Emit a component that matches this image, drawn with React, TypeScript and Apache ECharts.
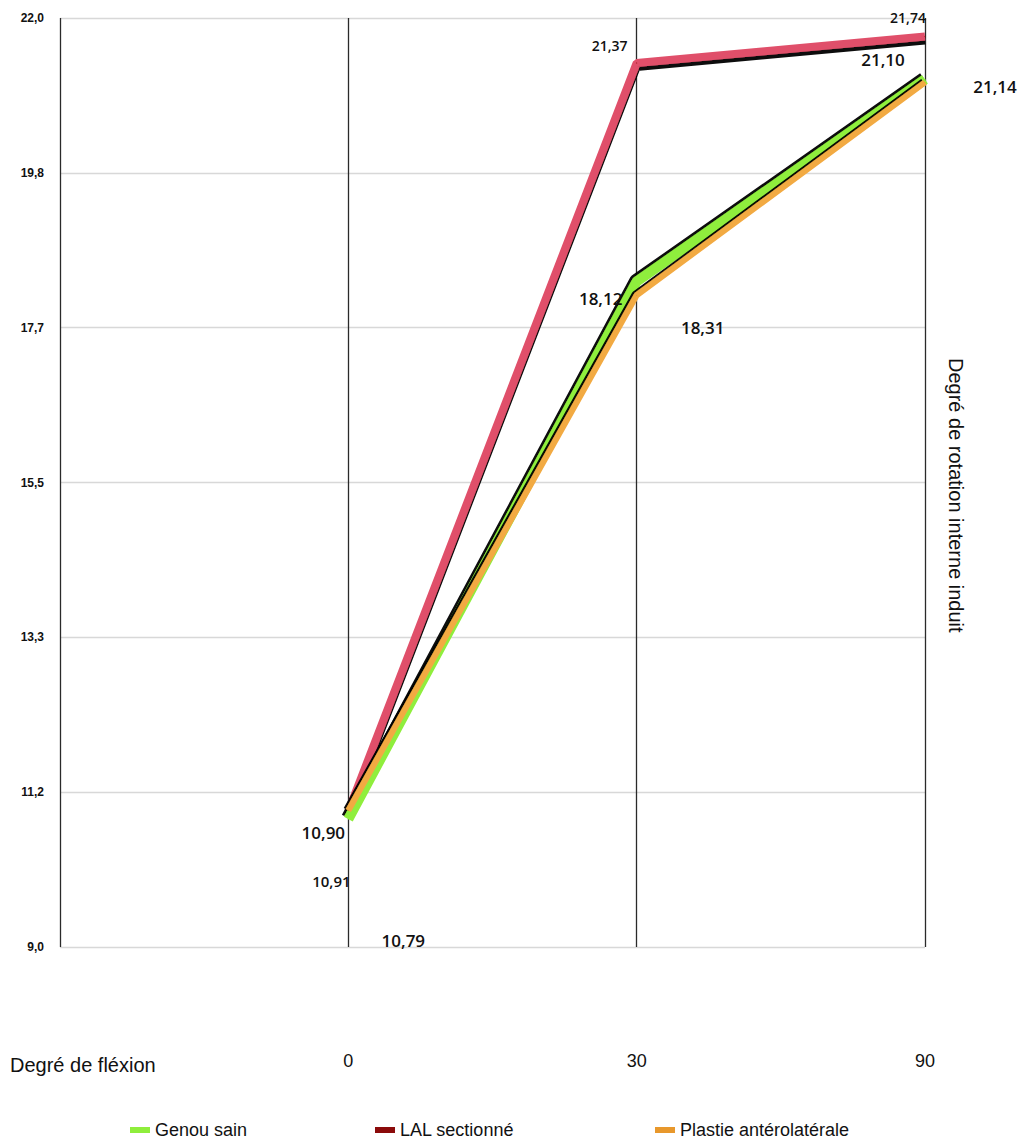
import React, { useEffect, useRef } from "react";
import * as echarts from "echarts";

const categories = ["", "0", "30", "90"];
const genouSain = [null, 10.79, 18.31, 21.14];
const lalSectionne = [null, 10.9, 21.37, 21.74];
const plastie = [null, 10.91, 18.12, 21.1];
const seriesNames = ["Genou sain", "LAL sectionné", "Plastie antérolatérale"];

const yMin = 9;
const yMax = 22;

// label offsets (styling only)
const offGenou = [null, [55, 121], [66, 46], [70, 7]];
const offLal = [null, [-25, 21], [-27, -18], [-17, -19]];
const offPlastie = [null, [-17, 70], [-36, 3], [-42, -23]];

const fmt = (v: number) => v.toFixed(2).replace(".", ",");

function build(values: (number | null)[], offs: any[], fontSize: number[]) {
  return values.map((v, i) =>
    v === null
      ? null
      : {
          value: v,
          label: {
            show: true,
            position: "inside",
            offset: offs[i],
            fontSize: fontSize[i],
          },
        }
  );
}

const legendColors = ["#8fee3c", "#8b0b0b", "#e8982c"];
const legendLefts = [130, 375, 655];

export default function App() {
  const ref = useRef<HTMLDivElement>(null);
  useEffect(() => {
    if (!ref.current) return;
    const chart = echarts.init(ref.current, null, { renderer: "svg" });
    const labelCommon = {
      show: true,
      color: "#111",
      fontFamily: "Open Sans",
      fontWeight: 600,
      formatter: (p: any) => fmt(p.value),
    };
    chart.setOption({
      animation: false,
      backgroundColor: "#fff",
      grid: { left: 60, right: 105, top: 18, bottom: 197, containLabel: false },
      legend: seriesNames.map((n, i) => ({
        left: legendLefts[i],
        top: 1121,
        padding: 0,
        itemGap: 10,
        itemWidth: 20,
        itemHeight: 6,
        icon: "rect",
        textStyle: { fontSize: 18, color: "#111", fontFamily: "Liberation Sans" },
        data: [{ name: n, itemStyle: { color: legendColors[i] } }],
      })),
      xAxis: {
        type: "category",
        data: categories,
        boundaryGap: false,
        axisLine: { show: false },
        axisTick: { show: false },
        axisLabel: {
          margin: 105,
          fontSize: 18,
          color: "#111",
          fontFamily: "Liberation Sans",
        },
        splitLine: { show: true, lineStyle: { color: "#2a2a2a", width: 1.3 } },
      },
      yAxis: {
        type: "value",
        min: yMin,
        max: yMax,
        interval: (yMax - yMin) / 6,
        axisLine: { show: false },
        axisTick: { show: false },
        axisLabel: {
          margin: 16,
          fontSize: 12,
          fontWeight: "bold",
          color: "#111",
          fontFamily: "Liberation Sans",
          formatter: (v: number) => v.toFixed(1).replace(".", ","),
        },
        splitLine: { show: true, lineStyle: { color: "#d8d8d8", width: 1.3 } },
      },
      graphic: [
        {
          type: "text",
          left: 10,
          top: 1055,
          style: {
            text: "Degré de fléxion",
            fontSize: 20,
            fill: "#111",
            fontFamily: "Liberation Sans",
          },
        },
        {
          type: "text",
          x: 956,
          y: 358,
          rotation: -Math.PI / 2,
          style: {
            text: "Degré de rotation interne induit",
            fontSize: 20,
            fill: "#111",
            fontFamily: "Liberation Sans",
            textAlign: "left",
            textVerticalAlign: "middle",
          },
        },
      ],
      series: [
        {
          name: seriesNames[0],
          type: "line",
          z: 4,
          data: build(genouSain, offGenou, [0, 17, 17, 17]),
          symbol: "circle",
          symbolSize: 1,
          itemStyle: { color: "#8fee3c" },
          lineStyle: {
            color: "#8fee3c",
            width: 10,
            shadowColor: "rgba(0,0,0,0.95)",
            shadowOffsetX: -2,
            shadowOffsetY: -2,
            shadowBlur: 1,
          },
          label: labelCommon,
        },
        {
          name: seriesNames[1],
          type: "line",
          z: 3,
          data: build(lalSectionne, offLal, [0, 17, 14, 14]),
          symbol: "circle",
          symbolSize: 1,
          itemStyle: { color: "#8b0b0b" },
          lineStyle: {
            color: "#e0506a",
            width: 8,
            shadowColor: "rgba(0,0,0,0.95)",
            shadowOffsetX: 0,
            shadowOffsetY: 4,
            shadowBlur: 1,
          },
          label: labelCommon,
        },
        {
          name: seriesNames[2],
          type: "line",
          z: 5,
          data: build(plastie, offPlastie, [0, 15, 17, 17]),
          symbol: "circle",
          symbolSize: 1,
          itemStyle: { color: "#e8982c" },
          lineStyle: {
            color: "#f2aa42",
            width: 6,
            shadowColor: "rgba(0,0,0,0.95)",
            shadowOffsetX: -2,
            shadowOffsetY: -1,
            shadowBlur: 1,
          },
          label: labelCommon,
        },
      ],
    });
    return () => chart.dispose();
  }, []);
  return (
    <div
      ref={ref}
      style={{ position: "fixed", left: 0, top: 0, width: 1030, height: 1144 }}
    />
  );
}
